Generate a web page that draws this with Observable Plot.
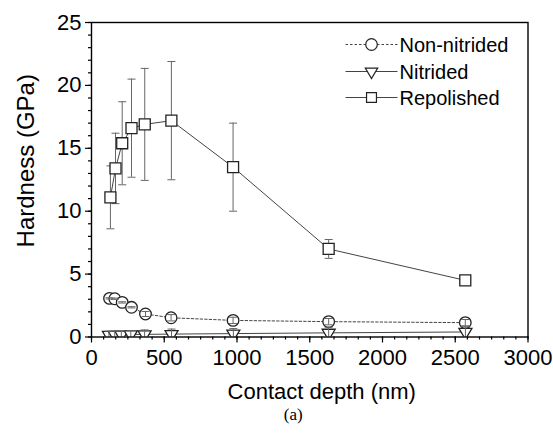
<!DOCTYPE html>
<html>
<head>
<meta charset="utf-8">
<script src="https://cdn.jsdelivr.net/npm/d3@7"></script>
<script src="https://cdn.jsdelivr.net/npm/@observablehq/plot@0.6"></script>
<style>
  html, body { margin: 0; padding: 0; background: #fff; }
  #chart { width: 553px; height: 433px; }
</style>
</head>
<body>
<div id="chart"></div>
<script>
// ---- data ----
const seriesNames = ["Non-nitrided", "Nitrided", "Repolished"];

const depthNon = [124, 160, 211, 275, 371, 547, 973, 1630, 2569];
const hardNon  = [3.07, 3.04, 2.75, 2.36, 1.83, 1.53, 1.32, 1.22, 1.14];
const errNon   = [0.05, 0.05, 0.05, 0.05, 0.2, 0.25, 0.25, 0.25, 0.25];

const depthNit = [120, 160, 205, 270, 365, 550, 975, 1630, 2570];
const hardNit  = [0.16, 0.17, 0.18, 0.2, 0.21, 0.23, 0.27, 0.33, 0.4];
const errNit   = [0.3, 0.3, 0.3, 0.3, 0.35, 0.4, 0.4, 0.45, 0.45];

const depthRep = [130, 165, 211, 275, 366, 549, 973, 1630, 2569];
const hardRep  = [11.1, 13.4, 15.4, 16.6, 16.9, 17.2, 13.5, 7.0, 4.5];
const errRep   = [2.5, 2.8, 3.3, 3.9, 4.45, 4.7, 3.5, 0.75, 0.2];

const xMajorTicks = [0, 500, 1000, 1500, 2000, 2500, 3000];
const yMajorTicks = [0, 5, 10, 15, 20, 25];
const xLabel = "Contact depth (nm)";
const yLabel = "Hardness (GPa)";
const caption = "(a)";

// ---- tables ----
const rows = (name, xs, ys, es) => xs.map((x, i) => ({series: name, x, y: ys[i], e: es[i]}));
const nonData = rows(seriesNames[0], depthNon, hardNon, errNon);
const nitData = rows(seriesNames[1], depthNit, hardNit, errNit);
const repData = rows(seriesNames[2], depthRep, hardRep, errRep);

const xMinorTicks = d3.range(0, 3000.01, 500 / 6);
const yMinorTicks = d3.range(0, 25.01, 1);

// ---- custom symbols ----
const capSym = {draw(ctx, size) { const r = Math.sqrt(size / Math.PI); ctx.moveTo(-r, 0); ctx.lineTo(r, 0); }};
const triDown = {draw(ctx, size) {
  const r = Math.sqrt(size / Math.PI);
  ctx.moveTo(-r, -0.55 * r); ctx.lineTo(r, -0.55 * r); ctx.lineTo(0, 1.15 * r); ctx.closePath();
}};
const hLine = {draw(ctx, size) { const r = Math.sqrt(size / Math.PI); ctx.moveTo(-r, 0); ctx.lineTo(r, 0); }};

const markStroke = "#222";
const lineCol = "#444";
const errCol = "#666";

function errorBars(data, opts = {}) {
  return [
    Plot.ruleX(data, {x: "x", y1: d => d.y - d.e, y2: d => d.y + d.e, stroke: errCol, strokeWidth: 1, ...opts}),
    Plot.dot(data, {x: "x", y: d => d.y - d.e, symbol: capSym, r: 4, stroke: errCol, strokeWidth: 1, fill: "none", ...opts}),
    Plot.dot(data, {x: "x", y: d => d.y + d.e, symbol: capSym, r: 4, stroke: errCol, strokeWidth: 1, fill: "none", ...opts})
  ];
}

// legend entries (layout only)
const legendStyles = [
  {symbol: "circle", r: 5.8, dash: "2.5,2"},
  {symbol: triDown, r: 6.2, dash: null},
  {symbol: "square", r: 5.6, dash: null}
];
const legendY = [44, 71, 97];
const legendMarks = seriesNames.flatMap((name, i) => {
  const st = legendStyles[i];
  const dy = legendY[i] - 22;
  return [
    Plot.dot([name], {frameAnchor: "top-left", dx: 371 - 91, dy: dy, symbol: hLine, r: 26,
      stroke: lineCol, strokeWidth: 1, fill: "none", strokeDasharray: st.dash}),
    Plot.dot([name], {frameAnchor: "top-left", dx: 371 - 91, dy: dy, symbol: st.symbol, r: st.r,
      stroke: markStroke, strokeWidth: 1.2, fill: "white"}),
    Plot.text([name], {frameAnchor: "top-left", dx: 399 - 91, dy: dy + 1, text: d => d,
      textAnchor: "start", lineAnchor: "middle", fontSize: 20, fill: "#000"})
  ];
});

const chart = Plot.plot({
  width: 553,
  height: 433,
  marginLeft: 91,
  marginRight: 25.5,
  marginTop: 22,
  marginBottom: 96.5,
  style: {fontFamily: "'Liberation Sans', Arial, sans-serif", background: "#fff", color: "#000", overflow: "visible"},
  x: {domain: [0, 3000]},
  y: {domain: [0, 25]},
  marks: [
    // axes
    Plot.axisX({ticks: xMinorTicks, tickSize: 3, text: null, label: null, strokeWidth: 1.2}),
    Plot.axisX({ticks: xMajorTicks, tickSize: 6, tickPadding: 6, tickFormat: d => String(d), fontSize: 22, label: null, strokeWidth: 1.2}),
    Plot.axisY({ticks: yMinorTicks, tickSize: 3, text: null, label: null, strokeWidth: 1.2}),
    Plot.axisY({ticks: yMajorTicks, tickSize: 6, tickPadding: 4, tickFormat: d => String(d), fontSize: 22, label: null, strokeWidth: 1.2}),

    // Repolished: line, error bars behind markers
    Plot.line(repData, {x: "x", y: "y", stroke: lineCol, strokeWidth: 1}),
    ...errorBars(repData),
    Plot.dot(repData, {x: "x", y: "y", symbol: "square", r: 6.2, fill: "white", stroke: markStroke, strokeWidth: 1.3}),

    // Non-nitrided: dashed line, markers, error bars on top
    Plot.line(nonData, {x: "x", y: "y", stroke: lineCol, strokeWidth: 1, strokeDasharray: "2.5,2"}),
    Plot.dot(nonData, {x: "x", y: "y", symbol: "circle", r: 5.8, fill: "white", stroke: markStroke, strokeWidth: 1.3}),
    ...errorBars(nonData),

    // Nitrided: solid line, down triangles clipped at frame
    Plot.line(nitData, {x: "x", y: "y", stroke: lineCol, strokeWidth: 1, clip: true}),
    Plot.dot(nitData, {x: "x", y: "y", symbol: triDown, r: 6.5, fill: "white", stroke: markStroke, strokeWidth: 1.3, clip: true}),
    ...errorBars(nitData, {clip: true}),

    // frame
    Plot.frame({stroke: "#000", strokeWidth: 1.4}),

    // axis titles and caption
    Plot.text([xLabel], {frameAnchor: "bottom", dx: 12, dy: 55, text: d => d, fontSize: 22, textAnchor: "middle", lineAnchor: "middle", fill: "#000"}),
    Plot.text([yLabel], {frameAnchor: "left", dx: -65, dy: -19, rotate: -90, text: d => d, fontSize: 24, textAnchor: "middle", lineAnchor: "middle", fill: "#000"}),
    Plot.text([caption], {frameAnchor: "bottom", dx: -16.5, dy: 78, text: d => d, fontSize: 17, textAnchor: "middle", lineAnchor: "middle",
      fontFamily: "'Liberation Serif', 'Times New Roman', serif", fill: "#000"}),

    // legend
    ...legendMarks
  ]
});

document.getElementById("chart").appendChild(chart);
</script>
</body>
</html>
